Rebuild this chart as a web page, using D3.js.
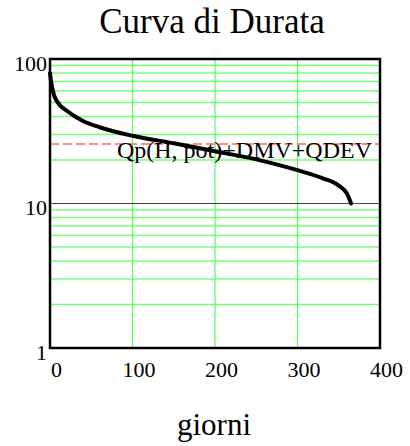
<!DOCTYPE html>
<html><head><meta charset="utf-8">
<script src="https://cdn.jsdelivr.net/npm/d3@7"></script>
<style>body{margin:0;background:#fff}svg{display:block}text{font-family:"Liberation Serif","Times New Roman",serif}</style>
</head><body>
<svg id="c" width="410" height="446"></svg>
<script>
// Data
const days = [0, 1, 2, 5, 10, 20, 40, 60, 100, 150, 200, 250, 300, 330, 350, 360, 365];
const flow = [80, 72, 66, 56, 49.5, 44, 37.2, 33.7, 29.4, 26.1, 23, 20.2, 17, 15, 13.3, 11.7, 10];
const thresholdValue = 25.8;
const thresholdLabel = "Qp(H, pot)+DMV+QDEV";
const xTicks = [0, 100, 200, 300, 400];
const yTicks = [1, 10, 100];
const yMinorGrid = [2,3,4,5,6,7,8,9,20,30,40,50,60,70,80,90];
const xGrid = [100, 200, 300];
const title = "Curva di Durata";
const xLabel = "giorni";

const svg = d3.select("#c");
const L = 50, R = 380, T = 59, B = 348;
const x = d3.scaleLinear().domain([0, 400]).range([L, R]);
const y = d3.scaleLog().domain([1, 100]).range([B, T]);

// grid
svg.append("g").selectAll("line").data(yMinorGrid).join("line")
  .attr("x1", L).attr("x2", R).attr("y1", d => y(d)).attr("y2", d => y(d))
  .attr("stroke", "#74ff74").attr("stroke-width", 1.5);
svg.append("g").selectAll("line").data(xGrid).join("line")
  .attr("x1", d => x(d)).attr("x2", d => x(d)).attr("y1", T).attr("y2", B)
  .attr("stroke", "#55ff55").attr("stroke-width", 1.2);
svg.append("line").attr("x1", L).attr("x2", R).attr("y1", y(10)).attr("y2", y(10))
  .attr("stroke", "#444").attr("stroke-width", 1);

// threshold
svg.append("line").attr("x1", L).attr("x2", R)
  .attr("y1", y(thresholdValue)).attr("y2", y(thresholdValue))
  .attr("stroke", "#ff6868").attr("stroke-width", 1.5).attr("stroke-dasharray", "9,4");

// curve
const line = d3.line().x((d, i) => x(days[i])).y(d => y(d)).curve(d3.curveMonotoneX);
svg.append("path").datum(flow).attr("d", line)
  .attr("fill", "none").attr("stroke", "#000").attr("stroke-width", 4)
  .attr("stroke-linecap", "round").attr("stroke-linejoin", "round");

// threshold label
svg.append("text").attr("x", 372).attr("y", y(thresholdValue) + 14)
  .attr("text-anchor", "end").style("font-size", "24px")
  .text(thresholdLabel);

// frame
svg.append("rect").attr("x", L).attr("y", T).attr("width", R - L).attr("height", B - T)
  .attr("fill", "none").attr("stroke", "#000").attr("stroke-width", 2.5);

// axes
const xAxis = svg.append("g").attr("transform", `translate(0,${B})`)
  .call(d3.axisBottom(x).tickValues(xTicks).tickSize(0).tickFormat(d3.format("d")));
xAxis.select(".domain").remove();
xAxis.attr("font-family", null).attr("font-size", null);
xAxis.selectAll("text").style("font-size", "22px").attr("fill", "#000")
  .attr("dy", null).attr("y", 29).attr("dx", 6);

const yAxis = svg.append("g").attr("transform", `translate(${L},0)`)
  .call(d3.axisLeft(y).tickValues(yTicks).tickSize(0).tickFormat(d3.format("d")));
yAxis.select(".domain").remove();
yAxis.attr("font-family", null).attr("font-size", null);
yAxis.selectAll("text").style("font-size", "22px").attr("fill", "#000")
  .attr("dy", null).attr("y", 11).attr("x", -3);

// titles
svg.append("text").attr("x", 212).attr("y", 33).attr("text-anchor", "middle")
  .style("font-size", "35px").text(title);
svg.append("text").attr("x", 214).attr("y", 435).attr("text-anchor", "middle")
  .style("font-size", "31px").text(xLabel);
</script>
</body></html>
